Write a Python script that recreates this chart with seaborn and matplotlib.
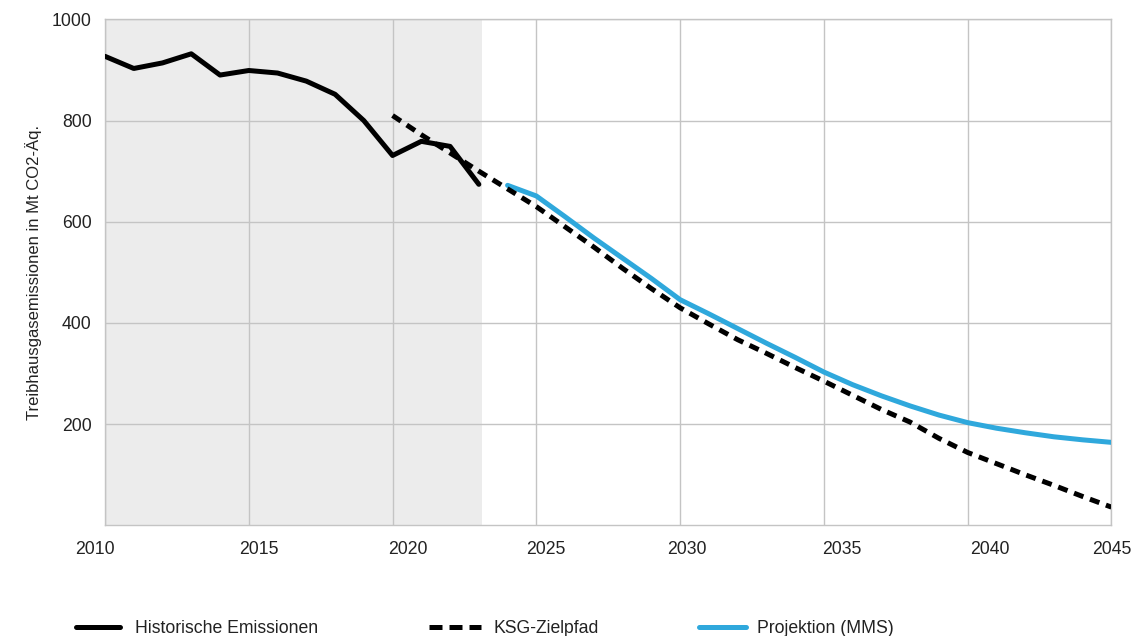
import matplotlib
matplotlib.use("Agg")
import matplotlib.pyplot as plt
import matplotlib.transforms as mtransforms
import seaborn as sns
import pandas as pd
from matplotlib.lines import Line2D

# ---- data ----
hist_years = [2010, 2011, 2012, 2013, 2014, 2015, 2016, 2017, 2018, 2019, 2020, 2021, 2022, 2023]
hist_values = [927, 903, 914, 932, 890, 899, 894, 878, 852, 800, 731, 759, 749, 674]

ksg_years = list(range(2020, 2046))
ksg_values = [810, 772, 736, 700, 665, 630, 590, 550, 508, 468, 430, 398, 367, 340, 312,
              285, 257, 229, 204, 172, 144, 122, 100, 79, 57, 36]

mms_years = list(range(2024, 2046))
mms_values = [672, 651, 610, 568, 528, 488, 446, 418, 389, 360, 332, 303, 278, 256, 236,
              218, 203, 192, 183, 175, 169, 164]

series_labels = ["Historische Emissionen", "KSG-Zielpfad", "Projektion (MMS)"]
x_ticks = [2010, 2015, 2020, 2025, 2030, 2035, 2040, 2045]
y_ticks = [200, 400, 600, 800, 1000]
y_label = "Treibhausgasemissionen in Mt CO2-Äq."
shade_end = 2023.1

# ---- style ----
sns.set_theme(style="white")
plt.rcParams["font.family"] = ["Liberation Sans", "DejaVu Sans"]

BLUE = "#2fa8dc"
GRID = "#c4c4c4"
TXT = "#222222"
LW = 3.6
FS = 12.7

fig = plt.figure(figsize=(11.39, 6.36), dpi=100)
ax = fig.add_axes([0.0922, 0.174, 0.8836, 0.7955])

ax.axvspan(2010, shade_end, color="#ececec", zorder=0.2, lw=0)

df_h = pd.DataFrame({"year": hist_years, "value": hist_values})
df_k = pd.DataFrame({"year": ksg_years, "value": ksg_values})
df_m = pd.DataFrame({"year": mms_years, "value": mms_values})

sns.lineplot(data=df_h, x="year", y="value", ax=ax, color="black", lw=LW,
             solid_joinstyle="round", zorder=3)
sns.lineplot(data=df_m, x="year", y="value", ax=ax, color=BLUE, lw=LW,
             solid_joinstyle="round", zorder=3)
sns.lineplot(data=df_k, x="year", y="value", ax=ax, color="black", lw=LW,
             dashes=False, zorder=4)
ax.lines[-1].set_dashes((2.0, 1.4))
ax.lines[-1].set_dash_capstyle("butt")

ax.set_xlim(2010, 2045)
ax.set_ylim(0, 1000)
ax.set_xticks(x_ticks)
ax.set_xticklabels([str(t) for t in x_ticks])
ax.set_yticks(y_ticks)
ax.set_yticklabels([str(t) for t in y_ticks])
ax.set_xlabel("")
ax.set_ylabel(y_label, fontsize=12, color=TXT, labelpad=7)

ax.set_axisbelow(True)
ax.grid(True, color=GRID, lw=1.0, zorder=0.5)
for s in ax.spines.values():
    s.set_color(GRID)
    s.set_linewidth(1.0)
ax.tick_params(axis="both", length=0, labelsize=FS, labelcolor=TXT)
ax.tick_params(axis="x", pad=11)
ax.tick_params(axis="y", pad=9.5)

# slight horizontal offsets of the x tick labels, as in the reference layout
label_shift_px = [-10, 10, 15, 9, 7, 18, 22, 0]
for lab, dx in zip(ax.get_xticklabels(), label_shift_px):
    lab.set_transform(lab.get_transform() +
                      mtransforms.ScaledTranslation(dx / 100, 0, fig.dpi_scale_trans))

# ---- legend (three separate entries below the plot) ----
handles = [
    Line2D([], [], color="black", lw=LW),
    Line2D([], [], color="black", lw=LW, dashes=(2.6, 1.4), dash_capstyle="butt"),
    Line2D([], [], color=BLUE, lw=LW),
]
xpos = [0.0667, 0.3766, 0.6137]
hlens = [2.5, 2.95, 2.67]
hpads = [0.85, 0.72, 0.63]
for h, lab, x, hl, hp in zip(handles, series_labels, xpos, hlens, hpads):
    leg = fig.legend([h], [lab], loc="center left", bbox_to_anchor=(x, 0.012),
                     frameon=False, fontsize=FS, handlelength=hl, handletextpad=hp,
                     borderpad=0, borderaxespad=0)
    for t in leg.get_texts():
        t.set_color(TXT)

fig.savefig("out.png", dpi=100)
